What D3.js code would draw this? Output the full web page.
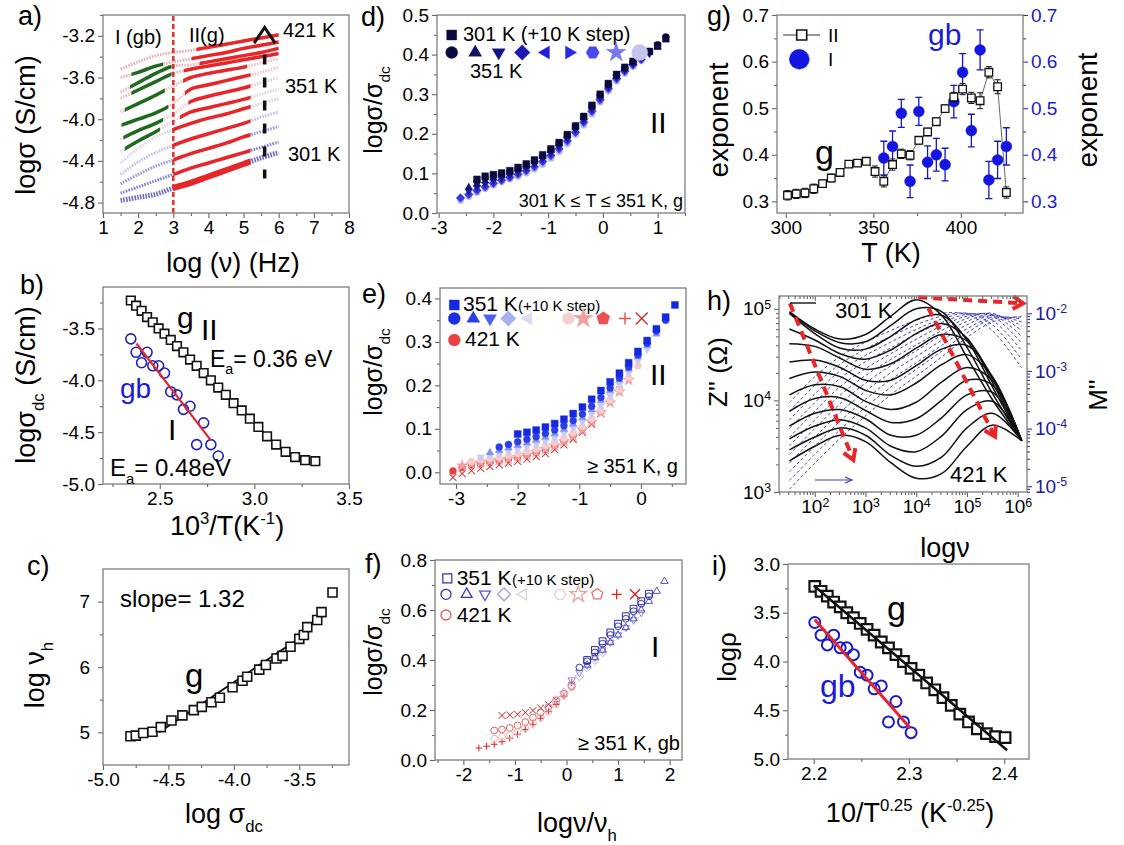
<!DOCTYPE html>
<html>
<head>
<meta charset="utf-8">
<script src="https://cdn.jsdelivr.net/npm/d3@7"></script>
<style>
  body { margin: 0; background: #fff; }
  text { font-family: "Liberation Sans", Arial, sans-serif; }
</style>
</head>
<body>
<script>
// ---------------- data ----------------
// a) log sigma vs log nu, 301..421 K (10 K step)
const aLogNu = [1.5, 2.0, 2.5, 3.0, 3.5, 4.0, 4.5, 5.0, 5.5, 6.0];
const aLogSigma = [
  [-4.78, -4.75, -4.72, -4.66, -4.61, -4.55, -4.49, -4.43, -4.37, -4.32],
  [-4.71, -4.65, -4.59, -4.53, -4.47, -4.42, -4.37, -4.32, -4.27, -4.22],
  [-4.62, -4.53, -4.45, -4.39, -4.33, -4.28, -4.23, -4.17, -4.12, -4.07],
  [-4.53, -4.41, -4.32, -4.25, -4.19, -4.14, -4.09, -4.04, -3.98, -3.93],
  [-4.42, -4.28, -4.17, -4.10, -4.04, -3.99, -3.95, -3.90, -3.85, -3.80],
  [-4.31, -4.21, -4.12, -4.02, -3.93, -3.89, -3.85, -3.81, -3.76, -3.71],
  [-4.19, -4.11, -4.04, -3.95, -3.83, -3.78, -3.74, -3.70, -3.65, -3.60],
  [-4.06, -4.00, -3.94, -3.85, -3.71, -3.67, -3.63, -3.59, -3.55, -3.50],
  [-3.93, -3.85, -3.77, -3.68, -3.60, -3.56, -3.53, -3.50, -3.46, -3.42],
  [-3.80, -3.72, -3.64, -3.56, -3.52, -3.49, -3.46, -3.43, -3.40, -3.37],
  [-3.74, -3.65, -3.56, -3.49, -3.48, -3.45, -3.42, -3.39, -3.36, -3.32],
  [-3.60, -3.55, -3.49, -3.45, -3.42, -3.39, -3.36, -3.32, -3.29, -3.26],
  [-3.52, -3.45, -3.39, -3.36, -3.34, -3.31, -3.28, -3.25, -3.22, -3.19]
];
const aRedRange = [[3, 5.2], [3, 5.2], [3, 5.2], [3, 5.2], [3, 5.2], [3.19, 5.2], [3.43, 5.2],
  [3.33, 5.2], [3.28, 5.1], [3.3, 6.0], [3.75, 6.0], [3.52, 6.05], [3.66, 6.05]];
const aGreenRange = [null, null, null, null, null, [1.62, 2.62], [1.58, 2.71], [1.53, 2.86],
  [1.62, 2.76], [1.81, 2.95], [1.77, 2.95], [1.81, 2.71], null];

// b) & i) grain (g, squares) and grain boundary (gb, circles)
const gInvT = [2.347, 2.375, 2.404, 2.433, 2.463, 2.494, 2.525, 2.558, 2.591, 2.625, 2.660, 2.695, 2.732,
  2.770, 2.809, 2.849, 2.890, 2.933, 2.976, 3.021, 3.067, 3.115, 3.165, 3.215, 3.268, 3.322];
const gVrh = [2.2011, 2.2077, 2.2143, 2.2209, 2.2278, 2.2347, 2.2417, 2.2488, 2.2560, 2.2634, 2.2709, 2.2785,
  2.2863, 2.2942, 2.3022, 2.3103, 2.3186, 2.3271, 2.3357, 2.3444, 2.3534, 2.3625, 2.3718, 2.3813, 2.3909, 2.4009];
const gLogSigma = [-3.23, -3.28, -3.33, -3.39, -3.44, -3.50, -3.55, -3.61, -3.67, -3.73, -3.80, -3.86, -3.93,
  -4.00, -4.07, -4.14, -4.22, -4.29, -4.37, -4.45, -4.54, -4.62, -4.69, -4.74, -4.77, -4.78];
const gbInvT = [2.347, 2.375, 2.404, 2.433, 2.463, 2.494, 2.525, 2.558, 2.591, 2.625, 2.660, 2.695, 2.732, 2.770, 2.809];
const gbVrh = [2.2011, 2.2077, 2.2143, 2.2209, 2.2278, 2.2347, 2.2417, 2.2488, 2.2560, 2.2634, 2.2709, 2.2785, 2.2863, 2.2942, 2.3022];
const gbLogSigma = [-3.60, -3.73, -3.83, -3.73, -3.86, -3.86, -3.93, -4.11, -4.14, -4.28, -4.25, -4.62, -4.41, -4.62, -4.73];
const bFitG = [[2.347, -3.23], [3.12, -4.63]];
const bFitGb = [[2.377, -3.645], [2.77, -4.58]];
const iFitG = [[2.2, 3.22], [2.403, 4.91]];
const iFitGb = [[2.201, 3.57], [2.301, 4.68]];

// c) log nu_h vs log sigma_dc
const cLogSigma = [-4.79, -4.749, -4.693, -4.622, -4.558, -4.477, -4.393, -4.306, -4.245, -4.171, -4.107, -4.010, -3.934,
  -3.898, -3.806, -3.755, -3.674, -3.628, -3.567, -3.500, -3.465, -3.439, -3.363, -3.330, -3.246];
const cLogNuH = [4.94, 4.95, 4.99, 5.01, 5.08, 5.18, 5.26, 5.34, 5.39, 5.46, 5.53, 5.69, 5.79,
  5.85, 5.96, 6.03, 6.13, 6.17, 6.31, 6.43, 6.49, 6.61, 6.72, 6.84, 7.14];
const cFit = [[-4.57, 5.0], [-3.44, 6.52]];

// d) scaled spectra 301..351 K, region II
const dX = [-2.6, -2.45, -2.3, -2.15, -2.0, -1.85, -1.7, -1.55, -1.4, -1.25, -1.1, -0.95, -0.8, -0.65, -0.5,
  -0.35, -0.2, -0.05, 0.1, 0.25, 0.4, 0.55, 0.7, 0.85, 1.0, 1.15];
const d301 = [null, null, 0.085, 0.093, 0.097, 0.101, 0.107, 0.115, 0.124, 0.134, 0.147, 0.162, 0.178, 0.198, 0.220, 0.244, 0.272, 0.300, 0.327, 0.350, 0.368, 0.383, 0.396, 0.408, 0.422, 0.440];
const d311 = [null, null, 0.080, 0.088, 0.094, 0.099, 0.105, 0.113, 0.122, 0.132, 0.145, 0.160, 0.177, 0.197, 0.219, 0.243, 0.270, 0.298, 0.325, 0.348, 0.366, 0.381, 0.395, 0.408, 0.425, 0.445];
const d321 = [null, 0.065, 0.073, 0.081, 0.088, 0.094, 0.101, 0.109, 0.118, 0.129, 0.142, 0.157, 0.174, 0.194, 0.216, 0.240, 0.267, 0.295, 0.322, 0.345, 0.364, 0.380, 0.394, 0.406, 0.418, null];
const d331 = [null, 0.055, 0.064, 0.073, 0.081, 0.088, 0.095, 0.103, 0.112, 0.123, 0.136, 0.151, 0.168, 0.188, 0.210, 0.234, 0.262, 0.291, 0.318, 0.342, 0.361, 0.377, 0.391, 0.402, null, null];
const d341 = [0.038, 0.047, 0.057, 0.066, 0.075, 0.083, 0.090, 0.098, 0.107, 0.117, 0.130, 0.145, 0.162, 0.182, 0.204, 0.229, 0.257, 0.286, 0.314, 0.339, 0.358, 0.374, 0.388, null, null, null];
const d351 = [0.032, 0.042, 0.052, 0.062, 0.071, 0.079, 0.086, 0.093, 0.101, 0.111, 0.123, 0.138, 0.155, 0.175, 0.198, 0.222, 0.250, 0.280, 0.308, 0.333, 0.353, 0.370, 0.385, null, null, null];

// e) scaled spectra >= 351 K, region II
const eX = [-3.05, -2.9, -2.75, -2.6, -2.45, -2.3, -2.15, -2.0, -1.85, -1.7, -1.55, -1.4, -1.25, -1.1, -0.95,
  -0.8, -0.65, -0.5, -0.35, -0.2, -0.05, 0.1, 0.25, 0.4, 0.55];
const e351 = [null, null, null, null, null, null, null, 0.088, 0.092, 0.097, 0.104, 0.112, 0.122, 0.135, 0.150, 0.168, 0.188, 0.208, 0.228, 0.252, 0.278, 0.303, 0.330, 0.357, 0.385];
const e361 = [null, null, null, null, null, 0.058, 0.064, 0.070, 0.076, 0.082, 0.089, 0.097, 0.107, 0.119, 0.134, 0.152, 0.172, 0.194, 0.217, 0.242, 0.270, 0.297, 0.325, 0.350, null];
const e371 = [null, null, null, null, 0.045, 0.050, 0.056, 0.062, 0.068, 0.074, 0.081, 0.089, 0.099, 0.111, 0.126, 0.144, 0.165, 0.188, 0.212, 0.238, 0.266, 0.292, 0.318, null, null];
const e381 = [null, null, null, 0.035, 0.039, 0.043, 0.048, 0.053, 0.058, 0.064, 0.071, 0.079, 0.089, 0.101, 0.116, 0.133, 0.153, 0.176, 0.201, 0.228, 0.256, 0.283, null, null, null];
const e391 = [null, null, 0.025, 0.029, 0.032, 0.035, 0.039, 0.043, 0.048, 0.054, 0.061, 0.069, 0.079, 0.091, 0.106, 0.123, 0.143, 0.166, 0.191, 0.218, 0.245, null, null, null, null];
const e401 = [null, 0.015, 0.019, 0.022, 0.025, 0.028, 0.031, 0.035, 0.040, 0.046, 0.053, 0.061, 0.071, 0.083, 0.098, 0.116, 0.137, 0.160, 0.185, 0.212, null, null, null, null, null];
const e411 = [0.003, 0.011, 0.017, 0.021, 0.024, 0.027, 0.031, 0.035, 0.040, 0.046, 0.053, 0.062, 0.073, 0.086, 0.101, 0.118, 0.140, 0.164, 0.192, null, null, null, null, null, null];
const e421 = [-0.012, -0.003, 0.004, 0.009, 0.013, 0.017, 0.021, 0.025, 0.030, 0.036, 0.043, 0.052, 0.063, 0.076, 0.092, 0.110, 0.135, null, null, null, null, null, null, null, null];

// f) scaled spectra >= 351 K, region I
const fX = [-1.7, -1.55, -1.4, -1.25, -1.1, -0.95, -0.8, -0.65, -0.5, -0.35, -0.2, -0.05, 0.1, 0.25, 0.4,
  0.55, 0.7, 0.85, 1.0, 1.15, 1.3, 1.45, 1.6, 1.75, 1.9];
const f351 = [null, null, null, null, null, null, null, null, null, null, null, null, null, null, 0.40, 0.44, 0.475, 0.51, 0.545, 0.575, 0.605, 0.635, 0.665, null, null];
const f361 = [null, null, null, null, null, null, null, null, null, null, null, null, null, 0.37, 0.395, 0.43, 0.465, 0.50, 0.535, 0.565, 0.595, 0.625, 0.655, null, null];
const f371 = [null, null, null, null, null, null, null, null, null, null, null, null, null, null, 0.38, 0.41, 0.44, 0.47, 0.50, 0.53, 0.565, 0.60, 0.635, 0.675, 0.715];
const f381 = [null, null, null, null, null, null, null, null, null, null, null, null, 0.32, 0.35, 0.38, 0.41, 0.44, 0.47, 0.50, 0.53, 0.56, 0.59, null, null, null];
const f391 = [null, null, null, null, null, null, null, null, null, 0.21, 0.24, 0.27, 0.30, 0.335, 0.37, 0.40, 0.43, null, null, null, null, null, null, null, null];
const f401 = [null, null, 0.085, 0.092, 0.10, 0.112, 0.128, 0.148, 0.17, 0.195, 0.225, 0.258, 0.29, null, null, null, null, null, null, null, null, null, null, null, null];
const f411 = [null, null, 0.118, 0.122, 0.128, 0.138, 0.152, 0.17, 0.19, 0.212, 0.238, 0.265, 0.295, null, null, null, null, null, null, null, null, null, null, null, null];
const f421 = [0.048, 0.055, 0.063, 0.073, 0.087, 0.103, 0.122, 0.143, 0.167, 0.193, 0.222, 0.255, 0.31, null, null, null, null, null, null, null, null, null, null, null, null];
const f421x = [null, null, null, 0.178, 0.18, 0.183, 0.19, 0.198, 0.208, 0.222, 0.24, null, null, null, null, null, null, null, null, null, null, null, null, null, null];

// g) exponent vs T
const gTII = [301, 306, 311, 316, 321, 326, 331, 336, 341, 346, 351, 356, 361, 366, 371, 376, 381, 386, 391, 396, 401, 406, 411, 416, 421, 426];
const gExpII = [0.313, 0.316, 0.318, 0.327, 0.338, 0.350, 0.362, 0.380, 0.382, 0.386, 0.364, 0.343, 0.379, 0.402, 0.399, 0.431, 0.449, 0.471, 0.499, 0.524, 0.541, 0.522, 0.516, 0.577, 0.546, 0.319];
const gErrII = [0.010, 0.010, 0.010, 0.010, 0.008, 0.008, 0.006, 0.006, 0.006, 0.006, 0.012, 0.012, 0.012, 0.010, 0.010, 0.008, 0.008, 0.008, 0.008, 0.010, 0.012, 0.012, 0.017, 0.012, 0.015, 0.012];
const gTI = [356, 361, 366, 371, 376, 381, 386, 391, 396, 401, 406, 411, 416, 421, 426];
const gExpI = [0.393, 0.418, 0.489, 0.343, 0.493, 0.384, 0.400, 0.379, 0.514, 0.577, 0.452, 0.625, 0.346, 0.389, 0.418];
const gErrI = [0.036, 0.033, 0.030, 0.035, 0.030, 0.035, 0.035, 0.035, 0.035, 0.040, 0.035, 0.043, 0.040, 0.040, 0.040];

// h) log10 Z'' (solid) and log10 M'' (dashed) vs log10 nu
const hLogNu = [1.5, 2.0, 2.5, 3.0, 3.5, 4.0, 4.5, 5.0, 5.5, 6.08];
const hLogZ = [
  [4.97, 4.78, 4.67, 4.72, 4.92, 5.10, 4.93, 4.47, 4.01, 3.56],
  [4.96, 4.76, 4.63, 4.64, 4.82, 5.00, 4.97, 4.58, 4.08, 3.56],
  [4.95, 4.73, 4.57, 4.56, 4.70, 4.88, 4.93, 4.66, 4.15, 3.56],
  [4.78, 4.66, 4.51, 4.45, 4.55, 4.73, 4.84, 4.68, 4.20, 3.56],
  [4.62, 4.59, 4.46, 4.34, 4.40, 4.57, 4.72, 4.65, 4.24, 3.56],
  [4.42, 4.44, 4.36, 4.22, 4.22, 4.38, 4.56, 4.60, 4.26, 3.56],
  [4.24, 4.31, 4.26, 4.11, 4.06, 4.19, 4.39, 4.50, 4.26, 3.56],
  [4.06, 4.17, 4.15, 3.99, 3.90, 3.98, 4.20, 4.36, 4.22, 3.56],
  [3.88, 4.02, 4.03, 3.89, 3.76, 3.80, 4.00, 4.22, 4.17, 3.56],
  [3.72, 3.86, 3.90, 3.80, 3.62, 3.62, 3.81, 4.06, 4.09, 3.56],
  [3.58, 3.72, 3.79, 3.70, 3.50, 3.44, 3.61, 3.90, 3.99, 3.56],
  [3.46, 3.60, 3.70, 3.62, 3.40, 3.28, 3.38, 3.70, 3.86, 3.56],
  [3.34, 3.50, 3.62, 3.55, 3.32, 3.15, 3.20, 3.50, 3.73, 3.56]
];
const hLogM = [
  [-3.55, -3.10, -2.75, -2.50, -2.30, -2.12, -2.00, -2.02, -2.30, -2.95],
  [-3.70, -3.25, -2.88, -2.62, -2.40, -2.20, -2.05, -2.00, -2.20, -2.80],
  [-3.85, -3.40, -3.00, -2.73, -2.50, -2.28, -2.10, -2.00, -2.12, -2.65],
  [-4.00, -3.55, -3.13, -2.84, -2.60, -2.36, -2.16, -2.02, -2.05, -2.52],
  [-4.15, -3.70, -3.27, -2.96, -2.70, -2.45, -2.22, -2.05, -2.02, -2.40],
  [-4.30, -3.85, -3.42, -3.08, -2.80, -2.55, -2.30, -2.09, -2.00, -2.30],
  [-4.45, -4.00, -3.57, -3.21, -2.91, -2.65, -2.38, -2.14, -2.02, -2.22],
  [-4.60, -4.15, -3.72, -3.35, -3.03, -2.75, -2.47, -2.20, -2.04, -2.15],
  [-4.75, -4.30, -3.87, -3.49, -3.15, -2.86, -2.56, -2.27, -2.07, -2.10],
  [-4.90, -4.45, -4.02, -3.63, -3.28, -2.97, -2.66, -2.34, -2.10, -2.07],
  [-5.05, -4.60, -4.17, -3.78, -3.41, -3.09, -2.76, -2.42, -2.15, -2.05]
];

// ---------------- helpers ----------------
const svg = d3.select('body').append('svg').attr('width', 1124).attr('height', 845);
const defs = svg.append('defs');
let clipCount = 0;

function clip(x0, y0, x1, y1) {
  const id = 'clip' + (clipCount++);
  defs.append('clipPath').attr('id', id).append('rect')
    .attr('x', x0).attr('y', y0).attr('width', x1 - x0).attr('height', y1 - y0);
  return `url(#${id})`;
}

function label(x, y, parts, size, opts = {}) {
  const t = svg.append('text').attr('x', x).attr('y', y).attr('font-size', size)
    .attr('fill', opts.color || '#000').attr('text-anchor', opts.anchor || 'start');
  if (opts.rotate) t.attr('transform', `rotate(${opts.rotate},${x},${y})`);
  if (typeof parts === 'string') parts = [{ t: parts }];
  let shift = 0;
  parts.forEach(p => {
    const target = p.sub ? size * 0.32 : p.sup ? -size * 0.42 : 0;
    const ts = t.append('tspan').text(p.t).attr('dy', target - shift);
    if (p.sub || p.sup) ts.attr('font-size', size * 0.62);
    shift = target;
  });
  return t;
}

function frame(f) {
  svg.append('rect').attr('x', f.l).attr('y', f.t).attr('width', f.r - f.l).attr('height', f.b - f.t)
    .attr('fill', 'none').attr('stroke', '#7d7d7d').attr('stroke-width', 1.3);
}

function axis(scale, side, pos, opts) {
  const maker = { bottom: d3.axisBottom, left: d3.axisLeft, right: d3.axisRight, top: d3.axisTop }[side];
  const vertical = side === 'left' || side === 'right';
  const g = svg.append('g')
    .attr('transform', vertical ? `translate(${pos},0)` : `translate(0,${pos})`);
  const inward = opts.inward ? -1 : 1;
  if (opts.minor) g.append('g').call(maker(scale).tickValues(opts.minor).tickSize(3 * inward).tickFormat(''));
  const major = g.append('g').call(maker(scale).tickValues(opts.ticks).tickSize(5 * inward).tickPadding(opts.pad || 3)
    .tickFormat(opts.noLabels ? '' : (opts.format || (d => d))));
  g.selectAll('.domain').remove();
  g.selectAll('line').attr('stroke', opts.lineColor || '#666').attr('stroke-width', 1.1);
  g.selectAll('text').attr('font-size', opts.size || 19).attr('fill', opts.color || '#000')
    .attr('font-family', '"Liberation Sans", Arial, sans-serif');
  if (opts.pow) {
    major.selectAll('.tick text').each(function (d) {
      const e = Math.round(Math.log10(d));
      const t = d3.select(this).text('');
      t.append('tspan').text('10');
      t.append('tspan').text(e).attr('dy', '-0.55em').attr('font-size', '0.65em');
    });
  }
  return g;
}

function poly(n, r, rot) {
  return 'M' + d3.range(n).map(i => {
    const a = rot + i * 2 * Math.PI / n;
    return (r * Math.cos(a)).toFixed(2) + ',' + (r * Math.sin(a)).toFixed(2);
  }).join('L') + 'Z';
}

function shape(type, r) {
  switch (type) {
    case 'square': return `M${-r},${-r}h${2 * r}v${2 * r}h${-2 * r}Z`;
    case 'circle': return `M${r},0A${r},${r} 0 1,1 ${-r},0A${r},${r} 0 1,1 ${r},0Z`;
    case 'triUp': return poly(3, r * 1.25, -Math.PI / 2);
    case 'triDown': return poly(3, r * 1.25, Math.PI / 2);
    case 'triLeft': return poly(3, r * 1.25, Math.PI);
    case 'triRight': return poly(3, r * 1.25, 0);
    case 'diamond': return poly(4, r * 1.3, -Math.PI / 2);
    case 'hexagon': return poly(6, r * 1.1, 0);
    case 'pentagon': return poly(5, r * 1.15, -Math.PI / 2);
    case 'star': return d3.symbol(d3.symbolStar, r * r * 3.4)();
    case 'plus': return `M${-r},0H${r}M0,${-r}V${r}`;
    case 'cross': return `M${-r},${-r}L${r},${r}M${r},${-r}L${-r},${r}`;
  }
}

function symbolAt(x, y, type, r, color, open, sw) {
  const lineOnly = type === 'plus' || type === 'cross';
  svg.append('path').attr('transform', `translate(${x},${y})`).attr('d', shape(type, r))
    .attr('fill', lineOnly ? 'none' : open ? '#fff' : color).attr('stroke', color)
    .attr('stroke-width', sw || (open || lineOnly ? 1.2 : 0.4));
}

function markers(xs, ys, sx, sy, type, r, color, open, sw) {
  const lineOnly = type === 'plus' || type === 'cross';
  const pts = xs.map((x, i) => [x, ys[i]]).filter(d => d[1] != null);
  svg.append('g').selectAll('path').data(pts).join('path')
    .attr('transform', d => `translate(${sx(d[0])},${sy(d[1])})`)
    .attr('d', shape(type, r))
    .attr('fill', lineOnly || open ? 'none' : color).attr('stroke', color)
    .attr('stroke-width', sw || (open || lineOnly ? 1.1 : 0.4));
}

function segment(pts, sx, sy, color, width, dash) {
  const p = svg.append('path').attr('d', d3.line().x(d => sx(d[0])).y(d => sy(d[1]))(pts))
    .attr('fill', 'none').attr('stroke', color).attr('stroke-width', width)
    .attr('stroke-linejoin', 'miter');
  if (dash) p.attr('stroke-dasharray', dash);
  return p;
}

const F = {
  a: { l: 103, r: 349, t: 15, b: 213 },
  d: { l: 437, r: 685, t: 15, b: 213 },
  g: { l: 777, r: 1023, t: 15, b: 213 },
  b: { l: 103, r: 349, t: 287, b: 484 },
  e: { l: 440, r: 686, t: 288, b: 484 },
  h: { l: 779, r: 1027, t: 296, b: 492 },
  c: { l: 103, r: 349, t: 569, b: 765 },
  f: { l: 435, r: 682, t: 560, b: 760 },
  i: { l: 788, r: 1029, t: 564, b: 759 }
};
const fx1 = d => d.toFixed(1);

// ---------------- a) ----------------
{
  const xa = d3.scaleLinear([1, 8], [F.a.l, F.a.r]);
  const ya = d3.scaleLinear([-4.9, -3.0], [F.a.b, F.a.t]);
  const line = d3.line().x(d => xa(d[0])).y(d => ya(d[1])).curve(d3.curveCatmullRom);
  const fade = ['#6c6cc6', '#7f7fd0', '#9a9ada', '#c4c2ea', '#dcd2ea', '#e8d6e4', '#efd0d8', '#f0c8cc',
    '#f0c2c6', '#efbcc0', '#eeb6ba', '#eeb2b6', '#eeaeb2'];
  aLogSigma.forEach((row, i) => {
    const d = line(aLogNu.map((n, j) => [n, row[j]]));
    svg.append('path').attr('d', d).attr('fill', 'none').attr('stroke', fade[i])
      .attr('stroke-width', i === 0 ? 5 : 3).attr('stroke-dasharray', '1.6 1.2');
    const gr = aGreenRange[i];
    if (gr) {
      svg.append('path').attr('d', d).attr('fill', 'none').attr('stroke', '#1f6a1f')
        .attr('stroke-width', 3.5).attr('clip-path', clip(xa(gr[0]), 0, xa(gr[1]), 845));
    }
    const rr = aRedRange[i];
    svg.append('path').attr('d', d).attr('fill', 'none').attr('stroke', '#e8262a')
      .attr('stroke-width', i === 0 ? 6 : 3.5).attr('clip-path', clip(xa(rr[0]), 0, xa(rr[1]), 845));
  });
  segment([[3, -4.9], [3, -3.0]], xa, ya, '#e53030', 2.5, '5 3');
  segment([[5.6, -3.38], [5.6, -4.57]], xa, ya, '#111', 3.5, '10 13');
  segment([[5.3, -3.27], [5.6, -3.12], [5.9, -3.27]], xa, ya, '#111', 3);
  label(115, 44, 'I (gb)', 20);
  label(189, 42, 'II(g)', 20);
  label(283, 37, '421 K', 20);
  label(285, 93, '351 K', 20);
  label(288, 161, '301 K', 20);
  axis(xa, 'bottom', F.a.b, { ticks: [1, 2, 3, 4, 5, 6, 7, 8], minor: d3.range(1.5, 8, 1) });
  axis(ya, 'left', F.a.l, { ticks: [-4.8, -4.4, -4.0, -3.6, -3.2], minor: [-4.6, -4.2, -3.8, -3.4, -3.0], format: fx1 });
  frame(F.a);
  label(35, 125, 'logσ (S/cm)', 27, { anchor: 'middle', rotate: -90 });
  label(233, 272, 'log (ν) (Hz)', 27, { anchor: 'middle' });
  label(18, 25, 'a)', 27);
}

// ---------------- d) ----------------
{
  const xd = d3.scaleLinear([-3.03, 1.5], [F.d.l, F.d.r]);
  const yd = d3.scaleLinear([0, 0.5], [F.d.b, F.d.t]);
  const series = [d351, d341, d331, d321, d311, d301];
  const types = ['circle', 'diamond', 'triDown', 'triUp', 'circle', 'square'];
  const colors = ['#b8b8ee', '#3a3ae0', '#1a1aa0', '#13137a', '#0f0f55', '#0a0a3c'];
  series.forEach((s, k) => markers(dX, s, xd, yd, types[k], 3.4, colors[k]));
  axis(xd, 'bottom', F.d.b, { ticks: [-3, -2, -1, 0, 1], minor: [-2.5, -1.5, -0.5, 0.5, 1.5] });
  axis(yd, 'left', F.d.l, { ticks: [0, 0.1, 0.2, 0.3, 0.4, 0.5], minor: [0.05, 0.15, 0.25, 0.35, 0.45], format: fx1 });
  frame(F.d);
  symbolAt(451.7, 35, 'square', 5, '#0a0a3c');
  label(463, 41, '301 K (+10 K step)', 20);
  const leg = [['circle', '#0a0a3c'], ['triUp', '#10105e'], ['triDown', '#141480'], ['diamond', '#1a1ab0'],
    ['triLeft', '#2020d8'], ['triRight', '#2828e8'], ['hexagon', '#4848ec'], ['star', '#7878ee'], ['circle', '#c4c4ee']];
  leg.forEach((l, k) => symbolAt(451.7 + k * 23.5, 52.5, l[0], k === 8 ? 8 : 6, l[1]));
  label(470, 78, '351 K', 20);
  label(650, 133, 'II', 30);
  label(683, 207, '301 K ≤ T ≤ 351 K, g', 18, { anchor: 'end' });
  label(382, 110, [{ t: 'logσ/σ' }, { t: 'dc', sub: true }], 25, { anchor: 'middle', rotate: -90 });
  label(361, 26, 'd)', 27);
}

// ---------------- g) ----------------
{
  const xg = d3.scaleLinear([295, 435.5], [F.g.l, F.g.r]);
  const yg = d3.scaleLinear([0.275, 0.7], [F.g.b, F.g.t]);
  segment(gTII.map((t, i) => [t, gExpII[i]]), xg, yg, '#555', 0.9);
  gTI.forEach((t, i) => {
    const x = xg(t), y0 = yg(gExpI[i] - gErrI[i]), y1 = yg(gExpI[i] + gErrI[i]);
    svg.append('path').attr('d', `M${x},${y0}V${y1}M${x - 3.5},${y0}h7M${x - 3.5},${y1}h7`)
      .attr('stroke', '#1515d0').attr('stroke-width', 1.3).attr('fill', 'none');
  });
  markers(gTI, gExpI, xg, yg, 'circle', 5.5, '#1515e0');
  gTII.forEach((t, i) => {
    const x = xg(t), y0 = yg(gExpII[i] - gErrII[i]), y1 = yg(gExpII[i] + gErrII[i]);
    svg.append('path').attr('d', `M${x},${y0}V${y1}M${x - 3},${y0}h6M${x - 3},${y1}h6`)
      .attr('stroke', '#111').attr('stroke-width', 1).attr('fill', 'none');
  });
  gTII.forEach((t, i) => symbolAt(xg(t), yg(gExpII[i]), 'square', 3.8, '#111', true, 1.3));
  axis(xg, 'bottom', F.g.b, { ticks: [300, 350, 400], minor: [325, 375, 425] });
  const tk = [0.3, 0.4, 0.5, 0.6, 0.7], mn = [0.35, 0.45, 0.55, 0.65];
  axis(yg, 'left', F.g.l, { ticks: tk, minor: mn, format: fx1 });
  axis(yg, 'right', F.g.r, { ticks: tk, minor: mn, format: fx1, color: '#1a1ad8', lineColor: '#3030c0' });
  frame(F.g);
  segment([[0, 0], [1, 0]], d3.scaleLinear([0, 1], [783, 820]), () => 35, '#333', 1);
  symbolAt(801.7, 35, 'square', 5, '#111', true, 1.6);
  label(828, 42, 'II', 19);
  symbolAt(799.3, 59.3, 'circle', 10, '#1515e0');
  label(828, 66, 'I', 19);
  label(928, 45, 'gb', 30, { color: '#1a1ad8' });
  label(815, 164, 'g', 34);
  label(728, 120, 'exponent', 28, { anchor: 'middle', rotate: -90 });
  label(1097, 110, 'exponent', 28, { anchor: 'middle', rotate: -90 });
  label(891, 262, 'T (K)', 27, { anchor: 'middle' });
  label(707, 25, 'g)', 27);
}

// ---------------- b) ----------------
{
  const xb = d3.scaleLinear([2.2, 3.5], [F.b.l, F.b.r]);
  const yb = d3.scaleLinear([-5.0, -3.1], [F.b.b, F.b.t]);
  segment(bFitG, xb, yb, '#111', 1.5);
  gInvT.forEach((x, i) => symbolAt(xb(x), yb(gLogSigma[i]), 'square', 4.3, '#111', true, 1.6));
  markers(gbInvT, gbLogSigma, xb, yb, 'circle', 5, '#2020c0', true, 1.6);
  segment(bFitGb, xb, yb, '#e0282e', 2.2);
  axis(xb, 'bottom', F.b.b, { ticks: [2.5, 3.0, 3.5], minor: [2.25, 2.75, 3.25], format: fx1 });
  axis(yb, 'left', F.b.l, { ticks: [-5.0, -4.5, -4.0, -3.5], minor: [-4.75, -4.25, -3.75, -3.25], format: fx1 });
  frame(F.b);
  label(177, 328, 'g', 30);
  label(201, 340, 'II', 30);
  label(210, 367, [{ t: 'E' }, { t: 'a', sub: true }, { t: '= 0.36 eV' }], 23);
  label(120, 398, 'gb', 28, { color: '#1a1ad8' });
  label(168, 440, 'I', 30);
  label(110, 476, [{ t: 'E' }, { t: 'a', sub: true }, { t: '= 0.48eV' }], 24);
  label(35, 385, [{ t: 'logσ' }, { t: 'dc', sub: true }, { t: ' (S/cm)' }], 27, { anchor: 'middle', rotate: -90 });
  label(227, 535, [{ t: '10' }, { t: '3', sup: true }, { t: '/T(K' }, { t: '-1', sup: true }, { t: ')' }], 27, { anchor: 'middle' });
  label(20, 294, 'b)', 27);
}

// ---------------- e) ----------------
{
  const xe = d3.scaleLinear([-3.26, 0.73], [F.e.l, F.e.r]);
  const ye = d3.scaleLinear([-0.027, 0.424], [F.e.b, F.e.t]);
  const series = [e421, e411, e401, e391, e381, e371, e361, e351];
  const types = ['cross', 'circle', 'star', 'circle', 'triDown', 'triUp', 'circle', 'square'];
  const colors = ['#c84848', '#e84040', '#f0a0a0', '#f6cccc', '#c8ccf4', '#8090ee', '#2a3ee8', '#1428e0'];
  series.forEach((s, k) => markers(eX, s, xe, ye, types[k], 3.5, colors[k]));
  axis(xe, 'bottom', F.e.b, { ticks: [-3, -2, -1, 0], minor: [-2.5, -1.5, -0.5, 0.5] });
  axis(ye, 'left', F.e.l, { ticks: [0, 0.1, 0.2, 0.3, 0.4], minor: [0.05, 0.15, 0.25, 0.35], format: fx1 });
  frame(F.e);
  symbolAt(454.3, 305, 'square', 5, '#1428e0');
  label(463, 311, '351 K', 21);
  label(518, 311, '(+10 K step)', 15);
  const leg = [['circle', '#1a2ee0'], ['triUp', '#2a3ee8'], ['triDown', '#5060ec'], ['diamond', '#a8b0f0'],
    ['triLeft', '#d8dcf4'], ['circle', '#f6d0d0'], ['star', '#f0a0a0'], ['pentagon', '#ec5050'],
    ['plus', '#e05050'], ['cross', '#c83030']];
  const lx = [454.3, 473.3, 490, 508.3, 528.3, 568.3, 583.3, 603.3, 625, 641.7];
  leg.forEach((l, k) => symbolAt(lx[k], 318.5, l[0], 6, l[1], false, l[0] === 'plus' || l[0] === 'cross' ? 1.4 : 0.4));
  symbolAt(454.3, 340, 'circle', 6, '#e84040');
  label(465, 346, '421 K', 21);
  label(650, 385, 'II', 30);
  label(678, 473, '≥ 351 K, g', 20, { anchor: 'end' });
  label(382, 372, [{ t: 'logσ/σ' }, { t: 'dc', sub: true }], 25, { anchor: 'middle', rotate: -90 });
  label(362, 303, 'e)', 27);
}

// ---------------- h) ----------------
{
  const xh = d3.scaleLog([19.7, 1.53e6], [F.h.l, F.h.r]);
  const yh = d3.scaleLog([1e3, Math.pow(10, 5.14)], [F.h.b, F.h.t]);
  const yhR = d3.scaleLog([Math.pow(10, -5.1), Math.pow(10, -1.7)], [F.h.b, F.h.t]);
  const cp = clip(F.h.l, F.h.t, F.h.r, F.h.b);
  const lineZ = d3.line().x(d => xh(Math.pow(10, d[0]))).y(d => yh(Math.pow(10, d[1]))).curve(d3.curveCatmullRom);
  const lineM = d3.line().x(d => xh(Math.pow(10, d[0]))).y(d => yhR(Math.pow(10, d[1]))).curve(d3.curveCatmullRom);
  hLogM.forEach(row => {
    svg.append('path').attr('d', lineM(hLogNu.map((n, j) => [n, row[j]]))).attr('fill', 'none')
      .attr('stroke', '#4040b8').attr('stroke-width', 1).attr('stroke-dasharray', '3 2.5').attr('clip-path', cp);
  });
  hLogZ.forEach(row => {
    svg.append('path').attr('d', lineZ(hLogNu.map((n, j) => [n, row[j]]))).attr('fill', 'none')
      .attr('stroke', '#111').attr('stroke-width', 1.5).attr('clip-path', cp);
  });
  const px = v => xh(Math.pow(10, v)), py = v => yh(Math.pow(10, v));
  function arrow(a, b) {
    segment([a, b], px, py, '#e8262a', 4, '9 6');
    const x1 = px(b[0]), y1 = py(b[1]), ang = Math.atan2(y1 - py(a[1]), x1 - px(a[0]));
    const L = 12, s = 0.55;
    svg.append('path').attr('fill', 'none').attr('stroke', '#e8262a').attr('stroke-width', 4)
      .attr('d', `M${x1 - L * Math.cos(ang - s)},${y1 - L * Math.sin(ang - s)}L${x1},${y1}L${x1 - L * Math.cos(ang + s)},${y1 - L * Math.sin(ang + s)}`);
  }
  arrow([1.51, 5.06], [2.76, 3.35]);
  arrow([4.04, 5.126], [6.11, 5.06]);
  arrow([4.24, 5.006], [5.554, 3.604]);
  segment([[790, 303], [816, 303]], d => d, d => d, '#222', 1.5);
  segment([[815, 480], [851, 480]], d => d, d => d, '#3040c0', 1.2);
  svg.append('path').attr('d', 'M845,477L852,480L845,483').attr('fill', 'none').attr('stroke', '#3040c0').attr('stroke-width', 1.2);
  const xMinor = [], yMinor = [], rMinor = [];
  for (let e = 1; e <= 6; e++) for (let m = 2; m <= 9; m++) xMinor.push(m * Math.pow(10, e));
  for (let e = 3; e <= 5; e++) for (let m = 2; m <= 9; m++) yMinor.push(m * Math.pow(10, e));
  for (let e = -6; e <= -2; e++) for (let m = 2; m <= 9; m++) rMinor.push(m * Math.pow(10, e));
  const xm = xMinor.filter(v => v >= 19.7 && v <= 1.53e6);
  const xt = [1e2, 1e3, 1e4, 1e5, 1e6];
  axis(xh, 'bottom', F.h.b, { ticks: xt, minor: xm, pow: true });
  axis(xh, 'top', F.h.t, { ticks: xt, minor: xm, inward: true, noLabels: true });
  axis(yh, 'left', F.h.l, { ticks: [1e3, 1e4, 1e5], minor: yMinor.filter(v => v <= Math.pow(10, 5.14)), pow: true });
  axis(yhR, 'right', F.h.r, { ticks: [1e-5, 1e-4, 1e-3, 1e-2], minor: rMinor.filter(v => v >= Math.pow(10, -5.1) && v <= Math.pow(10, -1.7)),
    pow: true, color: '#1a1aa0', lineColor: '#3030a0' });
  frame(F.h);
  label(835, 318, '301 K', 22);
  label(950, 482, '421 K', 22);
  label(727, 372, "Z'' (Ω)", 26, { anchor: 'middle', rotate: -90 });
  label(1107, 395, "M''", 26, { anchor: 'middle', rotate: -90 });
  label(945, 557, 'logν', 27, { anchor: 'middle' });
  label(707, 310, 'h)', 27);
}

// ---------------- c) ----------------
{
  const xc = d3.scaleLinear([-5, -3.12], [F.c.l, F.c.r]);
  const yc = d3.scaleLinear([4.5, 7.5], [F.c.b, F.c.t]);
  segment(cFit, xc, yc, '#111', 1.8);
  cLogSigma.forEach((x, i) => symbolAt(xc(x), yc(cLogNuH[i]), 'square', 4.5, '#111', true, 1.6));
  axis(xc, 'bottom', F.c.b, { ticks: [-5.0, -4.5, -4.0, -3.5], minor: [-4.75, -4.25, -3.75, -3.25], format: fx1 });
  axis(yc, 'left', F.c.l, { ticks: [5, 6, 7], minor: [5.5, 6.5], pad: 8 });
  frame(F.c);
  label(120, 607, 'slope= 1.32', 24);
  label(185, 687, 'g', 33);
  label(44, 675, [{ t: 'log ν' }, { t: 'h', sub: true }], 27, { anchor: 'middle', rotate: -90 });
  label(224, 823, [{ t: 'log σ' }, { t: 'dc', sub: true }], 27, { anchor: 'middle' });
  label(27, 575, 'c)', 27);
}

// ---------------- f) ----------------
{
  const xf = d3.scaleLinear([-2.55, 2.24], [F.f.l, F.f.r]);
  const yf = d3.scaleLinear([0, 0.8], [F.f.b, F.f.t]);
  const series = [f421x, f421, f411, f401, f391, f381, f371, f361, f351];
  const types = ['cross', 'plus', 'circle', 'hexagon', 'diamond', 'triDown', 'triUp', 'circle', 'square'];
  const colors = ['#c82020', '#e02020', '#e06060', '#f0b8b8', '#b8b4dc', '#8c8cd4', '#5050c0', '#3838b0', '#2b2b9a'];
  series.forEach((s, k) => markers(fX, s, xf, yf, types[k], 3.4, colors[k], true, 1));
  axis(xf, 'bottom', F.f.b, { ticks: [-2, -1, 0, 1, 2], minor: [-2.5, -1.5, -0.5, 0.5, 1.5] });
  axis(yf, 'left', F.f.l, { ticks: [0, 0.2, 0.4, 0.6, 0.8], minor: [0.1, 0.3, 0.5, 0.7], format: fx1 });
  frame(F.f);
  symbolAt(447.3, 578.3, 'square', 4.5, '#3030a0', true, 1.2);
  label(456.7, 585, '351 K', 21);
  label(512, 585, '(+10 K step)', 15);
  const leg = [['circle', '#3030a8'], ['triUp', '#3838c0'], ['triDown', '#5a5ac8'], ['diamond', '#a0a0d0'],
    ['triLeft', '#d0d0e4'], ['hexagon', '#f0d0d0'], ['star', '#f0a0a0'], ['pentagon', '#e87070'],
    ['plus', '#e02020'], ['cross', '#d02020']];
  const lx = [446, 466.7, 485, 504, 523.3, 560, 578.3, 597.3, 616.7, 635];
  leg.forEach((l, k) => symbolAt(lx[k], 594.3, l[0], 5, l[1], true, 1.3));
  symbolAt(446, 615, 'circle', 5, '#e06060', true, 1.3);
  label(456.7, 622, '421 K', 21);
  label(651, 657, 'I', 30);
  label(680, 750, '≥ 351 K, gb', 20, { anchor: 'end' });
  label(382, 652, [{ t: 'logσ/σ' }, { t: 'dc', sub: true }], 25, { anchor: 'middle', rotate: -90 });
  label(577, 832, [{ t: 'logν/ν' }, { t: 'h', sub: true }], 27, { anchor: 'middle' });
  label(365, 573, 'f)', 27);
}

// ---------------- i) ----------------
{
  const xi = d3.scaleLinear([2.173, 2.426], [F.i.l, F.i.r]);
  const yi = d3.scaleLinear([3.0, 5.0], [F.i.t, F.i.b]);
  gVrh.forEach((x, i) => symbolAt(xi(x), yi(-gLogSigma[i]), 'square', 5.3, '#111', true, 2.2));
  segment(iFitG, xi, yi, '#111', 2.5);
  markers(gbVrh, gbLogSigma.map(v => -v), xi, yi, 'circle', 5.5, '#1a1ad0', true, 2);
  segment(iFitGb, xi, yi, '#e0282e', 3);
  axis(xi, 'bottom', F.i.b, { ticks: [2.2, 2.3, 2.4], minor: [2.25, 2.35], format: fx1 });
  axis(yi, 'left', F.i.l, { ticks: [3.0, 3.5, 4.0, 4.5, 5.0], minor: [3.25, 3.75, 4.25, 4.75], format: fx1 });
  frame(F.i);
  label(887, 620, 'g', 34);
  label(820, 697, 'gb', 32, { color: '#1a1ad8' });
  label(736, 657, 'logρ', 26, { anchor: 'middle', rotate: -90 });
  label(910, 822, [{ t: '10/T' }, { t: '0.25', sup: true }, { t: ' (K' }, { t: '-0.25', sup: true }, { t: ')' }], 27, { anchor: 'middle' });
  label(712, 575, 'i)', 27);
}
</script>
</body>
</html>
